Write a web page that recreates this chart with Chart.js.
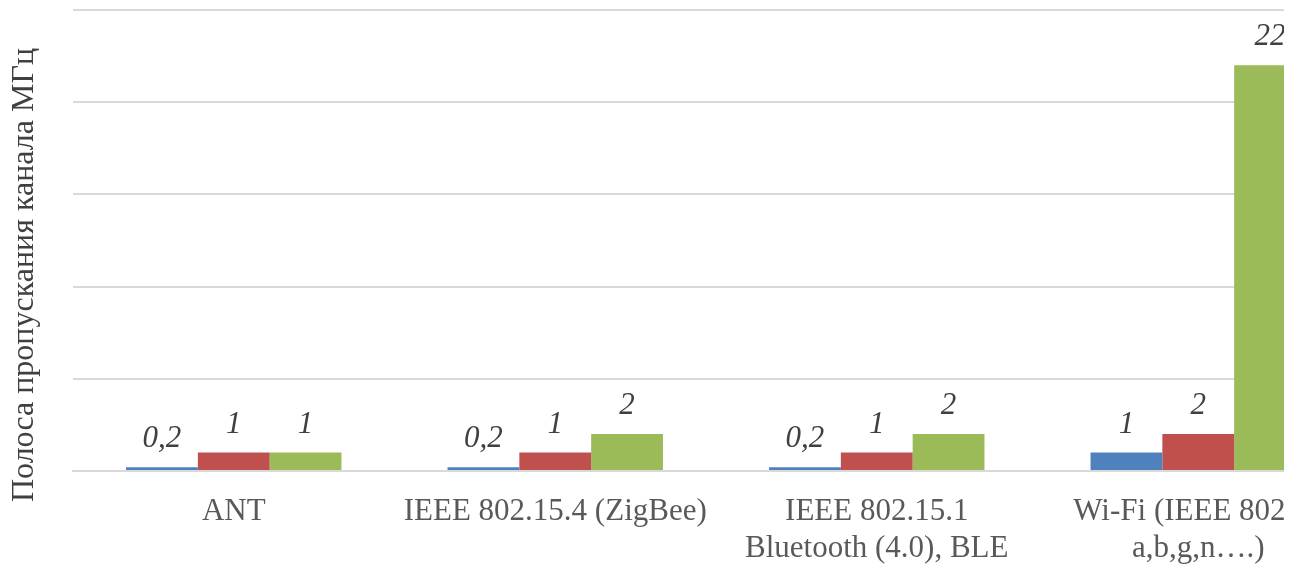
<!DOCTYPE html>
<html>
<head>
<meta charset="utf-8">
<script src="https://cdn.jsdelivr.net/npm/chart.js@4"></script>
<style>
    html, body { margin: 0; padding: 0; background: #fff; overflow: hidden; }
    #wrap { width: 1284px; height: 564px; overflow: hidden; }
</style>
</head>
<body>
<div id="wrap">
    <canvas id="bandChart" width="1360" height="564"></canvas>
</div>
<script>
// данные
const categories = [
    'ANT',
    'IEEE 802.15.4 (ZigBee)',
    ['IEEE 802.15.1', 'Bluetooth (4.0), BLE'],
    ['Wi-Fi (IEEE 802.11', 'a,b,g,n….)']
];
const serie1 = [0.2, 0.2, 0.2, 1];
const serie2 = [1, 1, 1, 2];
const serie3 = [1, 2, 2, 22];
const yTicks = [0, 5, 10, 15, 20, 25];
const tituloY = 'Полоса пропускания канала МГц';

const colores = ['#4f81bd', '#c0504d', '#9bbb59'];
const fuente = '"Liberation Serif", "Times New Roman", serif';

// etiquetas encima de cada barra
const etiquetasPlugin = {
    id: 'etiquetas',
    afterDatasetsDraw(chart) {
        const ctx = chart.ctx;
        ctx.save();
        ctx.font = 'italic 31px ' + fuente;
        ctx.fillStyle = '#404040';
        ctx.textAlign = 'center';
        ctx.textBaseline = 'alphabetic';
        chart.data.datasets.forEach((ds, i) => {
            const meta = chart.getDatasetMeta(i);
            meta.data.forEach((bar, j) => {
                const txt = String(ds.data[j]).replace('.', ',');
                ctx.fillText(txt, bar.x, bar.y - 20);
            });
        });
        ctx.restore();
    }
};

// titulo del eje Y (centrado en todo el alto, como en el original)
const tituloPlugin = {
    id: 'tituloY',
    afterDraw(chart) {
        const ctx = chart.ctx;
        ctx.save();
        ctx.translate(25, chart.height / 2 - 7);
        ctx.rotate(-Math.PI / 2);
        ctx.font = '32px ' + fuente;
        ctx.fillStyle = '#404040';
        ctx.textAlign = 'center';
        ctx.textBaseline = 'middle';
        ctx.fillText(tituloY, 0, 0);
        ctx.restore();
    }
};

const ctx = document.getElementById('bandChart').getContext('2d');
new Chart(ctx, {
    type: 'bar',
    data: {
        labels: categories,
        datasets: [
            { label: 's1', data: serie1, backgroundColor: colores[0] },
            { label: 's2', data: serie2, backgroundColor: colores[1] },
            { label: 's3', data: serie3, backgroundColor: colores[2] }
        ]
    },
    options: {
        responsive: false,
        animation: false,
        layout: { padding: { top: 10, right: 1, left: 0, bottom: 0 } },
        plugins: {
            legend: { display: false },
            tooltip: { enabled: false }
        },
        datasets: {
            bar: { barPercentage: 1, categoryPercentage: 0.67 }
        },
        scales: {
            x: {
                grid: { display: false, drawTicks: false },
                border: { color: '#d9d9d9', width: 2 },
                ticks: {
                    color: '#595959',
                    padding: 23,
                    maxRotation: 0,
                    autoSkip: false,
                    font: { family: fuente, size: 31, lineHeight: 1.18 }
                },
                afterFit(scale) { scale.height = 93; }
            },
            y: {
                min: yTicks[0],
                max: yTicks[yTicks.length - 1],
                afterBuildTicks(scale) { scale.ticks = yTicks.map(v => ({ value: v })); },
                ticks: { display: false },
                grid: { color: '#d9d9d9', lineWidth: 2, drawTicks: false },
                border: { display: false },
                afterFit(scale) { scale.width = 73; }
            }
        }
    },
    plugins: [etiquetasPlugin, tituloPlugin]
});
</script>
</body>
</html>
